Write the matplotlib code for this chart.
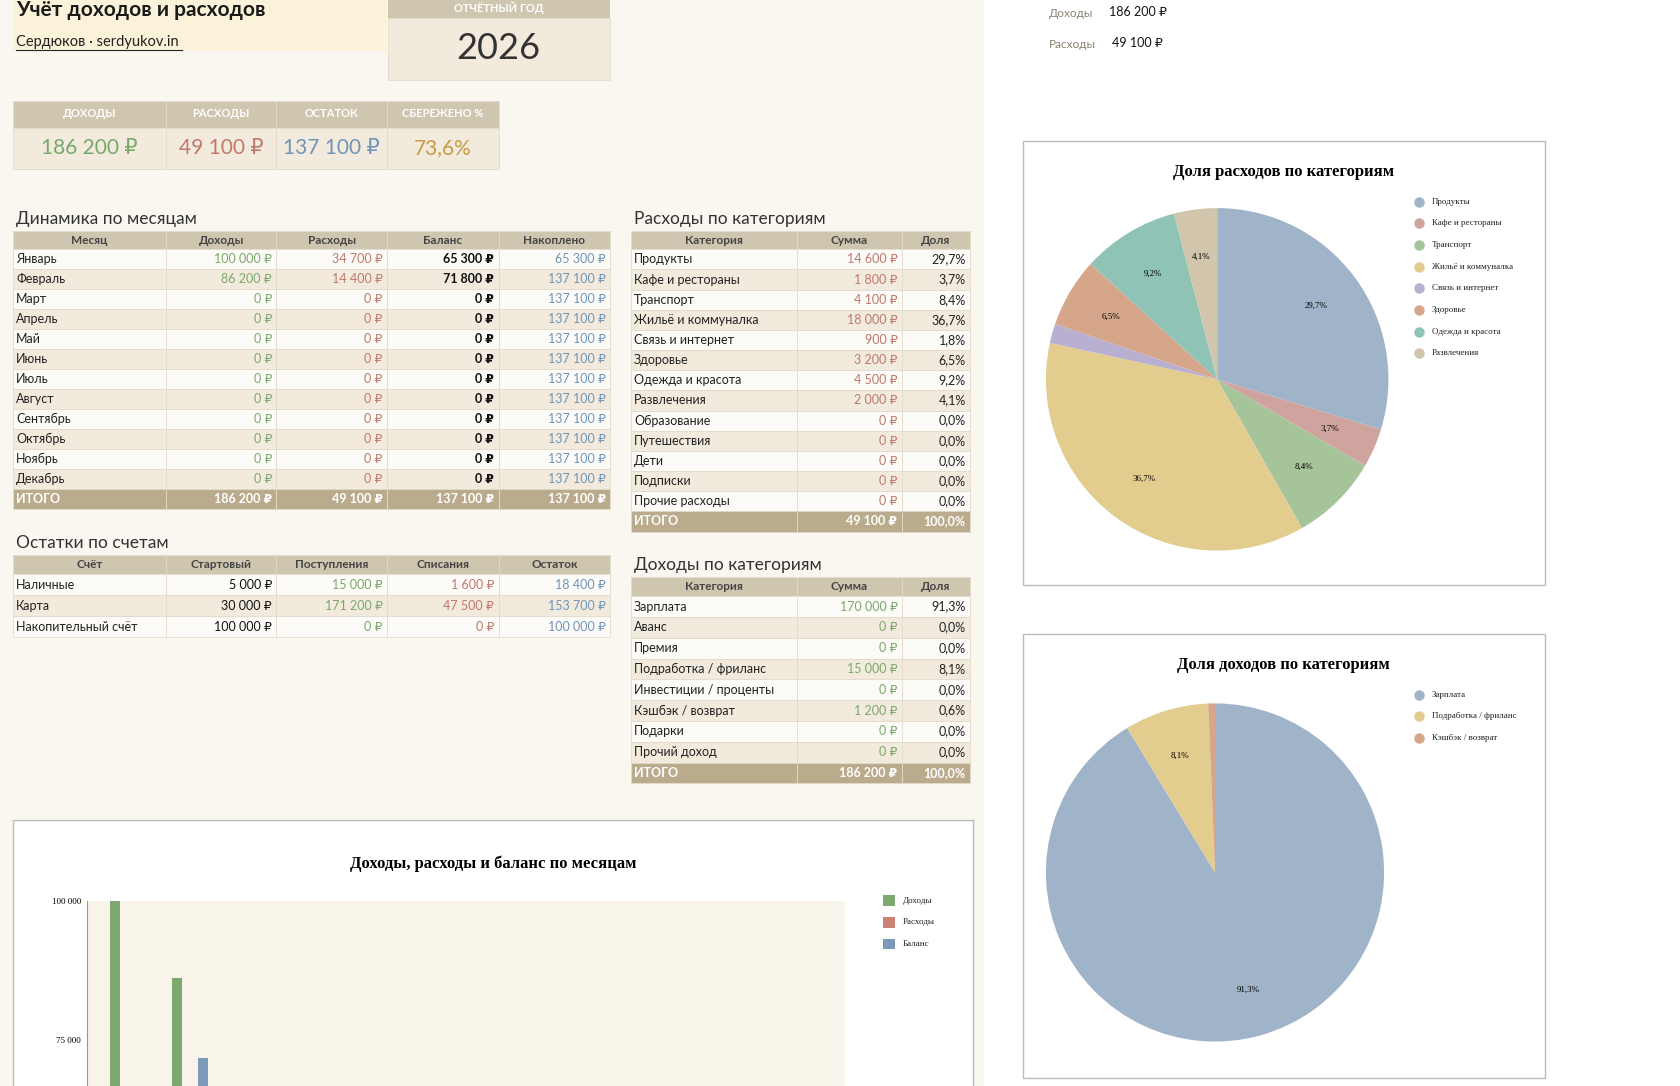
import numpy as np
import matplotlib.pyplot as plt
from matplotlib.patches import Rectangle

plt.rcParams['font.family'] = ['Lato', 'DejaVu Sans']

# ---- data ----
months = ['Январь', 'Февраль', 'Март', 'Апрель', 'Май', 'Июнь', 'Июль', 'Август',
          'Сентябрь', 'Октябрь', 'Ноябрь', 'Декабрь']
income = [100000, 86200, 0, 0, 0, 0, 0, 0, 0, 0, 0, 0]
expense = [34700, 14400, 0, 0, 0, 0, 0, 0, 0, 0, 0, 0]
balance = [65300, 71800, 0, 0, 0, 0, 0, 0, 0, 0, 0, 0]
accum = [65300, 137100, 137100, 137100, 137100, 137100, 137100, 137100,
         137100, 137100, 137100, 137100]
totals = [186200, 49100, 137100, 137100]

exp_cats = ['Продукты', 'Кафе и рестораны', 'Транспорт', 'Жильё и коммуналка',
            'Связь и интернет', 'Здоровье', 'Одежда и красота', 'Развлечения',
            'Образование', 'Путешествия', 'Дети', 'Подписки', 'Прочие расходы']
exp_sums = [14600, 1800, 4100, 18000, 900, 3200, 4500, 2000, 0, 0, 0, 0, 0]
exp_share = ['29,7%', '3,7%', '8,4%', '36,7%', '1,8%', '6,5%', '9,2%', '4,1%',
             '0,0%', '0,0%', '0,0%', '0,0%', '0,0%']

inc_cats = ['Зарплата', 'Аванс', 'Премия', 'Подработка / фриланс',
            'Инвестиции / проценты', 'Кэшбэк / возврат', 'Подарки', 'Прочий доход']
inc_sums = [170000, 0, 0, 15000, 0, 1200, 0, 0]
inc_share = ['91,3%', '0,0%', '0,0%', '8,1%', '0,0%', '0,6%', '0,0%', '0,0%']

accounts = ['Наличные', 'Карта', 'Накопительный счёт']
acc_start = [5000, 30000, 100000]
acc_in = [15000, 171200, 0]
acc_out = [1600, 47500, 0]
acc_rest = [18400, 153700, 100000]

kpi_labels = ['ДОХОДЫ', 'РАСХОДЫ', 'ОСТАТОК', 'СБЕРЕЖЕНО %']
kpi_values = ['186 200 ₽', '49 100 ₽', '137 100 ₽', '73,6%']

pie_exp_cols = ['#9fb4c8', '#cfa49e', '#a6c49a', '#e2cc8e', '#b9afd1', '#d6a68b', '#8fc3b6', '#d1c6ac']
pie_inc_cols = ['#9fb4c8', '#e2cc8e', '#d6a68b']

GREEN, RED, BLUE, ORANGE = '#7aa86a', '#c0786c', '#6f94b8', '#c79a45'
HEAD, TOTAL, LIGHT, DARK, LINE = '#cfc6b0', '#b9ab8c', '#fdfbf7', '#f2ebdd', '#e2dacb'

W, H = 1550, 1002
fig = plt.figure(figsize=(16.8, 10.86), dpi=100)
fig.patch.set_facecolor('white')


def fx(x):
    return x / W


def fy(y):
    return 1 - y / H


def rect(x0, y0, x1, y1, fc, ec='none', lw=0.6):
    fig.patches.append(Rectangle((fx(x0), fy(y1)), (x1 - x0) / W, (y1 - y0) / H,
                                 transform=fig.transFigure, fc=fc, ec=ec, lw=lw, zorder=-1))


def txt(x, y, s, **kw):
    kw.setdefault('va', 'center')
    fig.text(fx(x), fy(y), s, **kw)


def rub(v):
    return f'{v:,}'.replace(',', ' ') + ' ₽'


# background of sheet area
rect(0, 0, 908, H, '#faf7f0')

# title block
rect(12, 0, 357, 47, '#fbf3d9')
txt(15, 9, 'Учёт доходов и расходов', fontsize=15, fontweight='bold', color='#1a1a1a')
txt(15, 39, 'Сердюков · serdyukov.in', fontsize=10.5, color='#222222')
fig.add_artist(plt.Line2D([fx(15), fx(168)], [fy(46), fy(46)], color='#222222', lw=0.8))
rect(358, 0, 563, 17, HEAD)
rect(358, 17, 563, 74, DARK, ec=LINE)
txt(460, 7, 'ОТЧЁТНЫЙ ГОД', fontsize=8, color='white', fontweight='bold', ha='center')
txt(460, 45, '2026', fontsize=26, color='#333333', ha='center')

# KPI
kcols = [12, 153, 255, 357, 460]
kcolors = [GREEN, RED, BLUE, ORANGE]
for i in range(4):
    rect(kcols[i], 93, kcols[i + 1], 118, HEAD, ec=LINE)
    rect(kcols[i], 118, kcols[i + 1], 156, DARK, ec=LINE)
    cx = (kcols[i] + kcols[i + 1]) / 2
    txt(cx, 105, kpi_labels[i], fontsize=8, color='white', fontweight='bold', ha='center')
    txt(cx, 137, kpi_values[i], fontsize=15, color=kcolors[i], ha='center')


def table(cols, y0, hh, rh, title, headers, rows, colors, weights, total=None):
    txt(cols[0] + 3, y0 - 11, title, fontsize=12.5, color='#333333')
    for j, h in enumerate(headers):
        rect(cols[j], y0, cols[j + 1], y0 + hh, HEAD, ec=LINE)
        txt((cols[j] + cols[j + 1]) / 2, y0 + hh / 2, h, fontsize=8.5,
            color='#444444', fontweight='bold', ha='center')
    y = y0 + hh
    for i, row in enumerate(rows):
        bg = LIGHT if i % 2 == 0 else DARK
        for j, v in enumerate(row):
            rect(cols[j], y, cols[j + 1], y + rh, bg, ec=LINE)
            if j == 0:
                txt(cols[j] + 3, y + rh / 2, v, fontsize=9, color='#222222')
            else:
                txt(cols[j + 1] - 4, y + rh / 2, v, fontsize=9, ha='right',
                    color=colors[j], fontweight=weights[j])
        y += rh
    if total:
        for j, v in enumerate(total):
            rect(cols[j], y, cols[j + 1], y + rh, TOTAL, ec=LINE)
            if j == 0:
                txt(cols[j] + 3, y + rh / 2, v, fontsize=9, color='white', fontweight='bold')
            else:
                txt(cols[j + 1] - 4, y + rh / 2, v, fontsize=9, ha='right',
                    color='white', fontweight='bold')


mcols = [12, 153, 255, 357, 460, 563]
mrows = [[months[i], rub(income[i]), rub(expense[i]), rub(balance[i]), rub(accum[i])]
         for i in range(12)]
table(mcols, 213, 17, 18.4, 'Динамика по месяцам',
      ['Месяц', 'Доходы', 'Расходы', 'Баланс', 'Накоплено'], mrows,
      [None, GREEN, RED, '#111111', BLUE], [None, 'normal', 'normal', 'bold', 'normal'],
      ['ИТОГО'] + [rub(v) for v in totals])

arows = [[accounts[i], rub(acc_start[i]), rub(acc_in[i]), rub(acc_out[i]), rub(acc_rest[i])]
         for i in range(3)]
table(mcols, 512, 18, 19.3, 'Остатки по счетам',
      ['Счёт', 'Стартовый', 'Поступления', 'Списания', 'Остаток'], arows,
      [None, '#111111', GREEN, RED, BLUE], [None, 'normal', 'normal', 'normal', 'normal'])

ccols = [582, 735, 832, 895]
erows = [[exp_cats[i], rub(exp_sums[i]), exp_share[i]] for i in range(len(exp_cats))]
table(ccols, 213, 17, 18.6, 'Расходы по категориям', ['Категория', 'Сумма', 'Доля'], erows,
      [None, RED, '#222222'], [None, 'normal', 'normal'],
      ['ИТОГО', rub(sum(exp_sums)), '100,0%'])

irows = [[inc_cats[i], rub(inc_sums[i]), inc_share[i]] for i in range(len(inc_cats))]
table(ccols, 532, 18, 19.2, 'Доходы по категориям', ['Категория', 'Сумма', 'Доля'], irows,
      [None, GREEN, '#222222'], [None, 'normal', 'normal'],
      ['ИТОГО', rub(sum(inc_sums)), '100,0%'])

# top right summary
txt(968, 12, 'Доходы', fontsize=8.5, color='#8a8270')
txt(1023, 11, '186 200 ₽', fontsize=9, color='#111111')
txt(968, 41, 'Расходы', fontsize=8.5, color='#8a8270')
txt(1026, 40, '49 100 ₽', fontsize=9, color='#111111')

serif = 'Liberation Serif'


def pie_block(y0, y1, cx, cy, r, title, vals, labels, colors, pcts, leg_y):
    rect(944, y0, 1425, y1, 'white', ec='#bbbbbb', lw=1)
    txt(1184, y0 + 29, title, fontsize=12, fontweight='bold', family=serif, ha='center')
    ax = fig.add_axes([fx(cx - r), fy(cy + r), 2 * r / W, 2 * r / H])
    wedges, _ = ax.pie(vals, colors=colors, startangle=90, counterclock=False,
                       wedgeprops=dict(linewidth=0))
    ax.set_xlim(-1, 1)
    ax.set_ylim(-1, 1)
    for w, p in zip(wedges, pcts):
        ang = np.deg2rad((w.theta1 + w.theta2) / 2)
        ax.text(0.72 * np.cos(ang), 0.72 * np.sin(ang), p, fontsize=6.5,
                family=serif, ha='center', va='center')
    for i, lab in enumerate(labels):
        y = leg_y + 20 * i
        fig.add_artist(plt.Line2D([fx(1309)], [fy(y)], marker='o', ms=6.5, color=colors[i], lw=0))
        txt(1321, y, lab, fontsize=6.5, family=serif, color='#222222')


nz = [i for i in range(len(exp_sums)) if exp_sums[i] > 0]
pie_block(130, 540, 1123, 350, 158, 'Доля расходов по категориям',
          [exp_sums[i] for i in nz], [exp_cats[i] for i in nz], pie_exp_cols,
          [exp_share[i] if exp_sums[i] >= 1000 else '' for i in nz], 186)

nzi = [i for i in range(len(inc_sums)) if inc_sums[i] > 0]
pie_block(585, 995, 1121, 805, 156, 'Доля доходов по категориям',
          [inc_sums[i] for i in nzi], [inc_cats[i] for i in nzi], pie_inc_cols,
          [inc_share[i] if inc_sums[i] >= 10000 else '' for i in nzi], 641)

# bar chart
rect(12, 757, 898, 1040, 'white', ec='#bbbbbb', lw=1)
txt(455, 797, 'Доходы, расходы и баланс по месяцам', fontsize=12, fontweight='bold',
    family=serif, ha='center')
ax = fig.add_axes([fx(80), fy(1347), 700 / W, (1347 - 831) / H])
ax.set_facecolor('#f8f4ea')
x = np.arange(12)
ax.bar(x - 0.21, income, 0.16, color='#7ea96e')
ax.bar(x, expense, 0.16, color='#c98274')
ax.bar(x + 0.21, balance, 0.16, color='#7d9bb8')
ax.set_xlim(-38 / 57, -38 / 57 + 700 / 57)
ax.set_ylim(0, 100000)
ax.set_yticks([75000, 100000])
ax.set_yticklabels(['75 000', '100 000'], family=serif, fontsize=6.5)
ax.set_xticks([])
for s in ['top', 'right', 'bottom']:
    ax.spines[s].set_visible(False)
ax.spines['left'].set_color('#999999')
ax.tick_params(axis='y', length=0, pad=4)
for i, (lab, c) in enumerate(zip(['Доходы', 'Расходы', 'Баланс'], ['#7ea96e', '#c98274', '#7d9bb8'])):
    y = 831 + 20 * i
    rect(815, y - 5, 826, y + 5, c)
    txt(833, y, lab, fontsize=6.5, family=serif, color='#222222')

fig.savefig('out.png', dpi=100)
